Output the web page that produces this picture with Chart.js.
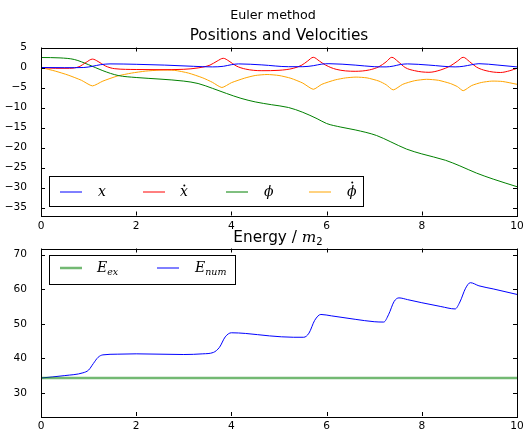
<!DOCTYPE html>
<html>
<head>
<meta charset="utf-8">
<script src="https://cdn.jsdelivr.net/npm/chart.js@4.4.1/dist/chart.umd.min.js"></script>
<style>
  body { margin: 0; background: #fff; }
  #wrap { position: relative; width: 529px; height: 436px; font-family: "DejaVu Sans", sans-serif; color: #000; }
  canvas { position: absolute; left: 0; top: 0; }
  .title { position: absolute; white-space: nowrap; transform: translateX(-50%); line-height: 1; }
  .title i { font-family: "DejaVu Serif", serif; }
  .title sub { font-size: 10px; font-style: normal; position: relative; top: 3px; vertical-align: baseline; line-height: 0; }
</style>
</head>
<body>
<div id="wrap">
  <canvas id="posChart" width="529" height="436"></canvas>
  <canvas id="energyChart" width="529" height="436"></canvas>
  <div class="title" style="left:273px; top:9px; font-size:12.7px;">Euler method</div>
  <div class="title" style="left:279px; top:28px; font-size:15.3px;">Positions and Velocities</div>
  <div class="title" style="left:278px; top:230px; font-size:15.3px;">Energy / <i>m</i><sub>2</sub></div>
</div>
<script>
// tick labels
const timeTicks = [0, 2, 4, 6, 8, 10];
const posTicks = [5, 0, -5, -10, -15, -20, -25, -30, -35];
const energyTicks = [30, 40, 50, 60, 70];

// x (blue)
const xTime = [0, 0.5, 0.9, 1.08, 1.25, 1.45, 2.0, 2.6, 3.2, 3.6, 3.83, 4.0, 4.15, 4.64, 5.2, 5.5, 5.72, 5.9, 6.05, 6.6, 7.0, 7.25, 7.4, 7.55, 7.7, 8.15, 8.7, 8.87, 9.05, 9.2, 9.6, 10];
const xVals = [0, -0.05, 0, 0.3, 0.7, 0.9, 0.8, 0.6, 0.3, 0.15, 0.3, 0.7, 0.9, 0.65, 0.2, 0.2, 0.45, 0.85, 0.95, 0.6, 0.2, 0.15, 0.35, 0.75, 0.9, 0.6, 0.15, 0.3, 0.7, 0.95, 0.6, 0.15];

// x dot (red)
const xDotTime = [0, 0.3, 0.6, 0.8, 0.95, 1.08, 1.2, 1.35, 1.55, 2.0, 2.5, 3.0, 3.3, 3.55, 3.7, 3.83, 3.95, 4.1, 4.3, 4.64, 5.0, 5.3, 5.48, 5.6, 5.72, 5.85, 5.98, 6.2, 6.6, 6.9, 7.1, 7.25, 7.37, 7.5, 7.65, 7.85, 8.15, 8.4, 8.6, 8.75, 8.87, 9.0, 9.15, 9.35, 9.65, 9.85, 10];
const xDotVals = [0, -0.2, -0.2, 0.2, 1.3, 2.1, 1.5, 0.4, -0.3, -0.5, -0.55, -0.45, -0.1, 0.6, 1.6, 2.3, 1.6, 0.4, -0.4, -0.8, -0.7, -0.2, 0.6, 1.6, 2.55, 1.6, 0.6, -0.45, -0.95, -0.6, 0.2, 1.4, 2.55, 1.5, 0, -0.8, -1.2, -0.6, 0.4, 1.6, 2.55, 1.5, 0.1, -0.8, -1.25, -0.8, -0.2];

// phi (green)
const phiTime = [0, 0.4, 0.7, 1.0, 1.3, 1.62, 2.0, 2.5, 3.0, 3.3, 3.6, 3.9, 4.2, 4.5, 4.84, 5.2, 5.5, 5.8, 6.0, 6.3, 6.6, 7.05, 7.35, 7.68, 8.0, 8.5, 8.8, 9.15, 9.5, 10];
const phiVals = [2.5, 2.4, 2.0, 0.7, -0.8, -2.0, -2.5, -2.9, -3.4, -4.0, -5.2, -6.5, -7.7, -8.6, -9.3, -10.0, -11.2, -12.8, -14.0, -14.9, -15.6, -17.0, -18.6, -20.4, -21.6, -23.2, -24.6, -26.4, -27.9, -29.8];

// phi dot (orange)
const phiDotTime = [0, 0.3, 0.57, 0.85, 1.08, 1.3, 1.6, 1.9, 2.2, 2.5, 2.8, 3.1, 3.4, 3.6, 3.8, 4.0, 4.28, 4.5, 4.75, 5.0, 5.25, 5.5, 5.72, 5.9, 6.18, 6.4, 6.62, 6.85, 7.1, 7.25, 7.4, 7.6, 7.85, 8.1, 8.35, 8.6, 8.75, 8.87, 9.05, 9.25, 9.47, 9.7, 10];
const phiDotVals = [0, -0.9, -1.9, -3.2, -4.6, -3.4, -2.15, -1.4, -0.9, -0.65, -0.7, -1.4, -2.6, -3.7, -5.0, -3.8, -2.65, -2.0, -1.75, -2.0, -2.7, -3.9, -5.45, -4.2, -3.1, -2.6, -2.4, -2.6, -3.4, -4.3, -5.6, -4.2, -3.3, -2.95, -3.2, -4.0, -4.8, -5.8, -4.5, -3.75, -3.4, -3.5, -4.2];

// energy
const exactTime = [0, 10];
const exactVals = [34.3, 34.3];
const numTime = [0, 0.5, 0.88, 1.0, 1.1, 1.2, 1.3, 1.6, 2.0, 2.5, 3.0, 3.4, 3.62, 3.75, 3.87, 4.0, 4.3, 4.8, 5.3, 5.52, 5.63, 5.75, 5.88, 6.1, 6.6, 7.0, 7.2, 7.3, 7.42, 7.52, 7.7, 8.0, 8.4, 8.7, 8.8, 8.92, 9.02, 9.2, 9.5, 10];
const numVals = [34.3, 35.0, 35.8, 36.6, 38.5, 40.3, 41.0, 41.2, 41.3, 41.2, 41.1, 41.3, 41.7, 43.2, 46.2, 47.4, 47.2, 46.5, 46.1, 46.1, 47.3, 51.0, 52.7, 52.3, 51.3, 50.6, 50.5, 52.6, 56.5, 57.5, 57.0, 56.1, 55.0, 54.3, 56.3, 60.3, 61.9, 61.0, 60.1, 58.5];

const pts = (ts, vs) => ts.map((t, i) => ({ x: t, y: vs[i] }));
const tickFont = { family: "DejaVu Sans", size: 10.6 };
const minus = v => String(v).replace("-", "\u2212");

// frame, inward ticks and legend box like matplotlib
const axesDecor = {
  id: "axesDecor",
  afterDatasetsDraw(chart, args, opts) {
    const { ctx, chartArea: a, scales } = chart;
    ctx.save();
    ctx.strokeStyle = "#000";
    ctx.lineWidth = 1;
    ctx.beginPath();
    scales.x.ticks.forEach(t => {
      const px = Math.round(scales.x.getPixelForValue(t.value)) + 0.5;
      ctx.moveTo(px, a.bottom); ctx.lineTo(px, a.bottom - 4);
      ctx.moveTo(px, a.top); ctx.lineTo(px, a.top + 4);
    });
    scales.y.ticks.forEach(t => {
      const py = Math.round(scales.y.getPixelForValue(t.value)) + 0.5;
      ctx.moveTo(a.left, py); ctx.lineTo(a.left + 4, py);
      ctx.moveTo(a.right, py); ctx.lineTo(a.right - 4, py);
    });
    ctx.stroke();
    ctx.strokeRect(Math.round(a.left) + 0.5, Math.round(a.top) + 0.5,
      Math.round(a.right - a.left), Math.round(a.bottom - a.top));

    // legend
    const b = opts.box;
    ctx.fillStyle = "#fff";
    ctx.fillRect(b.x, b.y, b.w, b.h);
    ctx.strokeRect(b.x + 0.5, b.y + 0.5, b.w, b.h);
    opts.items.forEach(it => {
      const ds = chart.data.datasets[it.ds];
      ctx.strokeStyle = ds.borderColor;
      ctx.lineWidth = ds.borderWidth;
      ctx.beginPath();
      ctx.moveTo(it.lineX, opts.lineY);
      ctx.lineTo(it.lineX + 22, opts.lineY);
      ctx.stroke();
      ctx.fillStyle = "#000";
      ctx.font = "italic 14px 'DejaVu Serif'";
      ctx.textBaseline = "alphabetic";
      const base = opts.lineY + 4;
      ctx.fillText(it.base, it.textX, base);
      const m = ctx.measureText(it.base);
      if (it.dot) {
        ctx.beginPath();
        ctx.arc(it.textX + m.width * 0.55, base - m.actualBoundingBoxAscent - 2.5, 1, 0, Math.PI * 2);
        ctx.fill();
      }
      if (it.sub) {
        ctx.font = "italic 9.5px 'DejaVu Serif'";
        ctx.fillText(it.sub, it.textX + m.width, base + 3);
      }
    });
    ctx.restore();
  }
};

function scalesFor(yMin, yMax, yTicks) {
  return {
    x: {
      type: "linear", min: 0, max: 10,
      afterBuildTicks: s => { s.ticks = timeTicks.map(v => ({ value: v })); },
      afterFit: s => { s.height = 20; },
      grid: { display: false },
      border: { display: false },
      ticks: { font: tickFont, color: "#000", padding: -4, maxRotation: 0, autoSkip: false }
    },
    y: {
      min: yMin, max: yMax,
      afterBuildTicks: s => { s.ticks = yTicks.map(v => ({ value: v })); },
      afterFit: s => { s.width = 41; },
      grid: { display: false },
      border: { display: false },
      ticks: { font: tickFont, color: "#000", padding: 6, autoSkip: false, callback: minus }
    }
  };
}

const lineStyle = { pointRadius: 0, borderWidth: 1, fill: false };

new Chart(document.getElementById("posChart"), {
  type: "line",
  data: {
    datasets: [
      { label: "x", data: pts(xTime, xVals), borderColor: "#0000ff", cubicInterpolationMode: "monotone", ...lineStyle },
      { label: "x dot", data: pts(xDotTime, xDotVals), borderColor: "#ff0000", cubicInterpolationMode: "monotone", ...lineStyle },
      { label: "phi", data: pts(phiTime, phiVals), borderColor: "#008000", cubicInterpolationMode: "monotone", ...lineStyle },
      { label: "phi dot", data: pts(phiDotTime, phiDotVals), borderColor: "#ffa500", tension: 0.2, ...lineStyle }
    ]
  },
  options: {
    responsive: false,
    animation: false,
    events: [],
    layout: { padding: { left: 0, right: 12, top: 47.5, bottom: 200.5 } },
    scales: scalesFor(-37, 5, posTicks),
    plugins: {
      legend: { display: false },
      tooltip: { enabled: false },
      axesDecor: {
        box: { x: 49, y: 176, w: 314, h: 30 },
        lineY: 192,
        items: [
          { ds: 0, lineX: 60, textX: 98, base: "x" },
          { ds: 1, lineX: 143, textX: 180, base: "x", dot: true },
          { ds: 2, lineX: 226, textX: 264, base: "\u03d5" },
          { ds: 3, lineX: 309, textX: 347, base: "\u03d5", dot: true }
        ]
      }
    }
  },
  plugins: [axesDecor]
});

new Chart(document.getElementById("energyChart"), {
  type: "line",
  data: {
    datasets: [
      { label: "E ex", data: pts(exactTime, exactVals), borderColor: "rgba(0,128,0,0.55)", pointRadius: 0, borderWidth: 2.5, fill: false },
      { label: "E num", data: pts(numTime, numVals), borderColor: "#0000ff", cubicInterpolationMode: "monotone", ...lineStyle }
    ]
  },
  options: {
    responsive: false,
    animation: false,
    events: [],
    layout: { padding: { left: 0, right: 12, top: 248.5, bottom: 0 } },
    scales: scalesFor(23.3, 71.8, energyTicks),
    plugins: {
      legend: { display: false },
      tooltip: { enabled: false },
      axesDecor: {
        box: { x: 49, y: 255, w: 186, h: 29 },
        lineY: 268,
        items: [
          { ds: 0, lineX: 60, textX: 97, base: "E", sub: "ex" },
          { ds: 1, lineX: 157, textX: 195, base: "E", sub: "num" }
        ]
      }
    }
  },
  plugins: [axesDecor]
});
</script>
</body>
</html>
